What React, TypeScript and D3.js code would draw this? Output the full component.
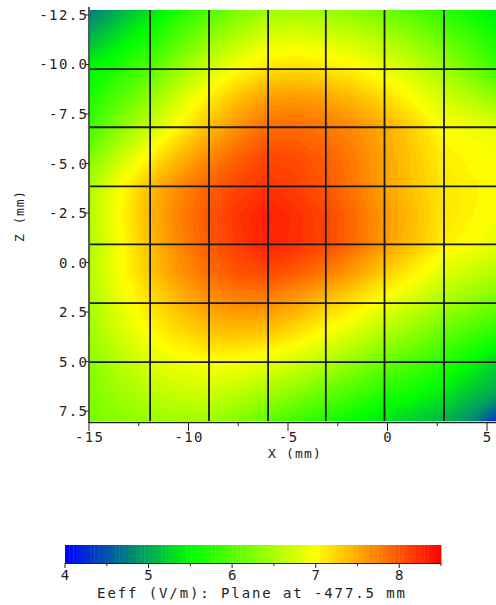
import React from 'react';
import * as d3 from 'd3';

// sample positions of the measured field (mm)
const sampleX = [-15, -13.525, -12.05, -10.575, -9.1, -7.625, -6.15, -4.675, -3.2, -1.725, -0.25, 1.225, 2.7, 4.175, 5.65];
const sampleZ = [-12.75, -11.275, -9.8, -8.325, -6.85, -5.375, -3.9, -2.425, -0.95, 0.525, 2.0, 3.475, 4.95, 6.425, 7.9];

// Eeff (V/m), one row per z (top to bottom), left to right in x
const row0 = [4.7, 5.02, 5.3, 5.62, 5.9, 6.18, 6.4, 6.45, 6.4, 6.3, 6.15, 5.97, 5.75, 5.55, 5.35];
const row1 = [5.07, 5.35, 5.62, 5.98, 6.3, 6.58, 6.8, 6.85, 6.8, 6.7, 6.55, 6.35, 6.12, 5.87, 5.58];
const row2 = [5.45, 5.68, 5.95, 6.35, 6.7, 6.97, 7.15, 7.2, 7.15, 7.05, 6.9, 6.7, 6.45, 6.15, 5.8];
const row3 = [5.65, 5.98, 6.32, 6.72, 7.06, 7.34, 7.55, 7.6, 7.53, 7.4, 7.22, 7.0, 6.75, 6.55, 6.3];
const row4 = [5.85, 6.27, 6.65, 7.02, 7.35, 7.63, 7.85, 7.87, 7.8, 7.68, 7.5, 7.27, 7.0, 6.92, 6.85];
const row5 = [6.2, 6.63, 7.02, 7.37, 7.66, 7.9, 8.08, 8.05, 7.94, 7.77, 7.55, 7.33, 7.1, 7.02, 6.95];
const row6 = [6.5, 6.95, 7.35, 7.66, 7.9, 8.08, 8.2, 8.13, 8.0, 7.8, 7.55, 7.35, 7.15, 7.07, 7.0];
const row7 = [6.55, 7.0, 7.4, 7.72, 7.98, 8.18, 8.32, 8.24, 8.1, 7.88, 7.62, 7.4, 7.16, 7.06, 6.95];
const row8 = [6.5, 6.95, 7.35, 7.68, 7.95, 8.15, 8.3, 8.23, 8.1, 7.88, 7.6, 7.37, 7.1, 6.98, 6.85];
const row9 = [6.55, 6.95, 7.3, 7.6, 7.84, 8.0, 8.08, 7.95, 7.78, 7.56, 7.3, 7.07, 6.82, 6.67, 6.5];
const row10 = [6.5, 6.85, 7.15, 7.4, 7.6, 7.7, 7.7, 7.55, 7.35, 7.16, 6.95, 6.73, 6.5, 6.33, 6.15];
const row11 = [6.42, 6.74, 7.02, 7.2, 7.34, 7.38, 7.34, 7.2, 7.0, 6.8, 6.57, 6.36, 6.13, 5.92, 5.7];
const row12 = [6.3, 6.57, 6.8, 6.93, 7.0, 6.98, 6.9, 6.77, 6.6, 6.38, 6.15, 5.96, 5.75, 5.5, 5.25];
const row13 = [6.25, 6.44, 6.6, 6.7, 6.74, 6.65, 6.5, 6.34, 6.15, 5.95, 5.75, 5.6, 5.43, 5.2, 5.0];
const row14 = [6.2, 6.31, 6.4, 6.45, 6.45, 6.3, 6.1, 5.9, 5.7, 5.52, 5.35, 5.23, 5.1, 4.85, 4.3];
const rows = [row0, row1, row2, row3, row4, row5, row6, row7, row8, row9, row10, row11, row12, row13, row14];

// grid lines of the measurement
const gridX = [-11.93, -8.97, -6.0, -3.1, -0.15, 2.84];
const gridZ = [-9.77, -6.83, -3.85, -0.92, 2.05, 5.03];

const xTicks = [-15, -10, -5, 0, 5];
const xMinor = [-12.5, -7.5, -2.5, 2.5];
const zTicks = [-12.5, -10, -7.5, -5, -2.5, 0, 2.5, 5, 7.5];
const barTicks = [4, 5, 6, 7, 8];
const barMinor = [4.5, 5.5, 6.5, 7.5, 8.5];

const FONT = 'DejaVu Sans Mono, monospace';
const INK = '#222';
const LS = 1.4;

const fmt = (v: number) => (v < 0 ? '-' : '') + Math.abs(v).toFixed(1);
const fmtInt = (v: number) => (v < 0 ? '-' : '') + Math.abs(v);

export default function App() {
  const W = 496;
  const H = 605;
  const left = 90;
  const top = 10;
  const bottom = 421;

  const x = d3.scaleLinear().domain([-15, 5]).range([89, 487]);
  const z = d3.scaleLinear().domain([-12.75, 8]).range([top, bottom]);
  const color = d3.scaleLinear<string>()
    .domain([4, 5.5, 7, 8.5])
    .range(['#0000ff', '#00ff00', '#ffff00', '#ff0000'])
    .clamp(true);

  const nx = sampleX.length;
  const nz = sampleZ.length;
  const values = rows.flat();
  const thresholds = d3.range(4, 8.5, 0.05);
  const contours = d3.contours().size([nx, nz]).thresholds(thresholds)(values);

  const gx = d3.scaleLinear().domain([0.5, nx - 0.5]).range([x(sampleX[0]), x(sampleX[nx - 1])]);
  const gz = d3.scaleLinear().domain([0.5, nz - 0.5]).range([z(sampleZ[0]), z(sampleZ[nz - 1])]);
  const path = d3.geoPath(d3.geoTransform({
    point(px: number, py: number) {
      this.stream.point(gx(px), gz(py));
    },
  }));

  const bar = d3.scaleLinear().domain([4, 8.5]).range([65, 441]);
  const barSteps = d3.range(4, 8.5, 0.05);

  return (
    <div style={{ position: 'absolute', left: 0, top: 0 }}>
      <svg width={W} height={H} style={{ display: 'block', background: '#fff' }}>
        <defs>
          <clipPath id="plot">
            <rect x={left} y={top} width={W - left} height={bottom - top} />
          </clipPath>
        </defs>
        <g clipPath="url(#plot)">
          {contours.map((c, i) => (
            <path key={i} d={path(c as any) || ''} fill={color(c.value + 0.025)} stroke={color(c.value + 0.025)} strokeWidth={0.6} />
          ))}
          {gridX.map((v) => (
            <line key={'gx' + v} x1={x(v)} x2={x(v)} y1={top} y2={bottom} stroke="#1a1a1a" strokeWidth={1.8} />
          ))}
          {gridZ.map((v) => (
            <line key={'gz' + v} x1={left} x2={W} y1={z(v)} y2={z(v)} stroke="#1a1a1a" strokeWidth={1.8} />
          ))}
        </g>

        {/* left axis */}
        <line x1={89} x2={89} y1={7} y2={423} stroke={INK} strokeWidth={1.5} />
        {zTicks.map((v) => (
          <g key={'zt' + v}>
            <line x1={85} x2={89} y1={z(v)} y2={z(v)} stroke={INK} strokeWidth={1} />
            <text x={87 + LS} y={z(v) + 5} textAnchor="end" fontFamily={FONT} fontSize={14} letterSpacing={LS} fill={INK}>
              {fmt(v)}
            </text>
          </g>
        ))}
        <text transform="translate(24,216) rotate(-90)" textAnchor="middle" fontFamily={FONT} fontSize={13} letterSpacing={0.8} fill={INK}>
          Z (mm)
        </text>

        {/* bottom axis */}
        <line x1={89} x2={W} y1={422.5} y2={422.5} stroke={INK} strokeWidth={1.5} />
        {xTicks.map((v) => (
          <g key={'xt' + v}>
            <line x1={x(v)} x2={x(v)} y1={422} y2={431} stroke={INK} strokeWidth={1} />
            <text x={x(v) + LS / 2} y={442} textAnchor="middle" fontFamily={FONT} fontSize={14} letterSpacing={LS} fill={INK}>
              {fmtInt(v)}
            </text>
          </g>
        ))}
        {xMinor.map((v) => (
          <line key={'xm' + v} x1={x(v)} x2={x(v)} y1={422} y2={426} stroke={INK} strokeWidth={1} />
        ))}
        <text x={295} y={458} textAnchor="middle" fontFamily={FONT} fontSize={13} letterSpacing={1.2} fill={INK}>
          X (mm)
        </text>

        {/* colour bar */}
        {barSteps.map((v) => (
          <rect key={'b' + v} x={bar(v)} y={545} width={bar(v + 0.05) - bar(v) + 0.4} height={18} fill={color(v + 0.025)} />
        ))}
        <line x1={65} x2={441} y1={563.5} y2={563.5} stroke={INK} strokeWidth={1.2} />
        {barTicks.map((v) => (
          <g key={'bt' + v}>
            <line x1={bar(v)} x2={bar(v)} y1={563} y2={568} stroke={INK} strokeWidth={1} />
            <text x={bar(v)} y={580} textAnchor="middle" fontFamily={FONT} fontSize={14} fill={INK}>
              {v}
            </text>
          </g>
        ))}
        {barMinor.map((v) => (
          <line key={'bm' + v} x1={bar(v)} x2={bar(v)} y1={563} y2={566} stroke={INK} strokeWidth={1} />
        ))}
        <text x={252} y={598} textAnchor="middle" fontFamily={FONT} fontSize={14} letterSpacing={1.9} fill={INK}>
          Eeff (V/m): Plane at -477.5 mm
        </text>
      </svg>
    </div>
  );
}
